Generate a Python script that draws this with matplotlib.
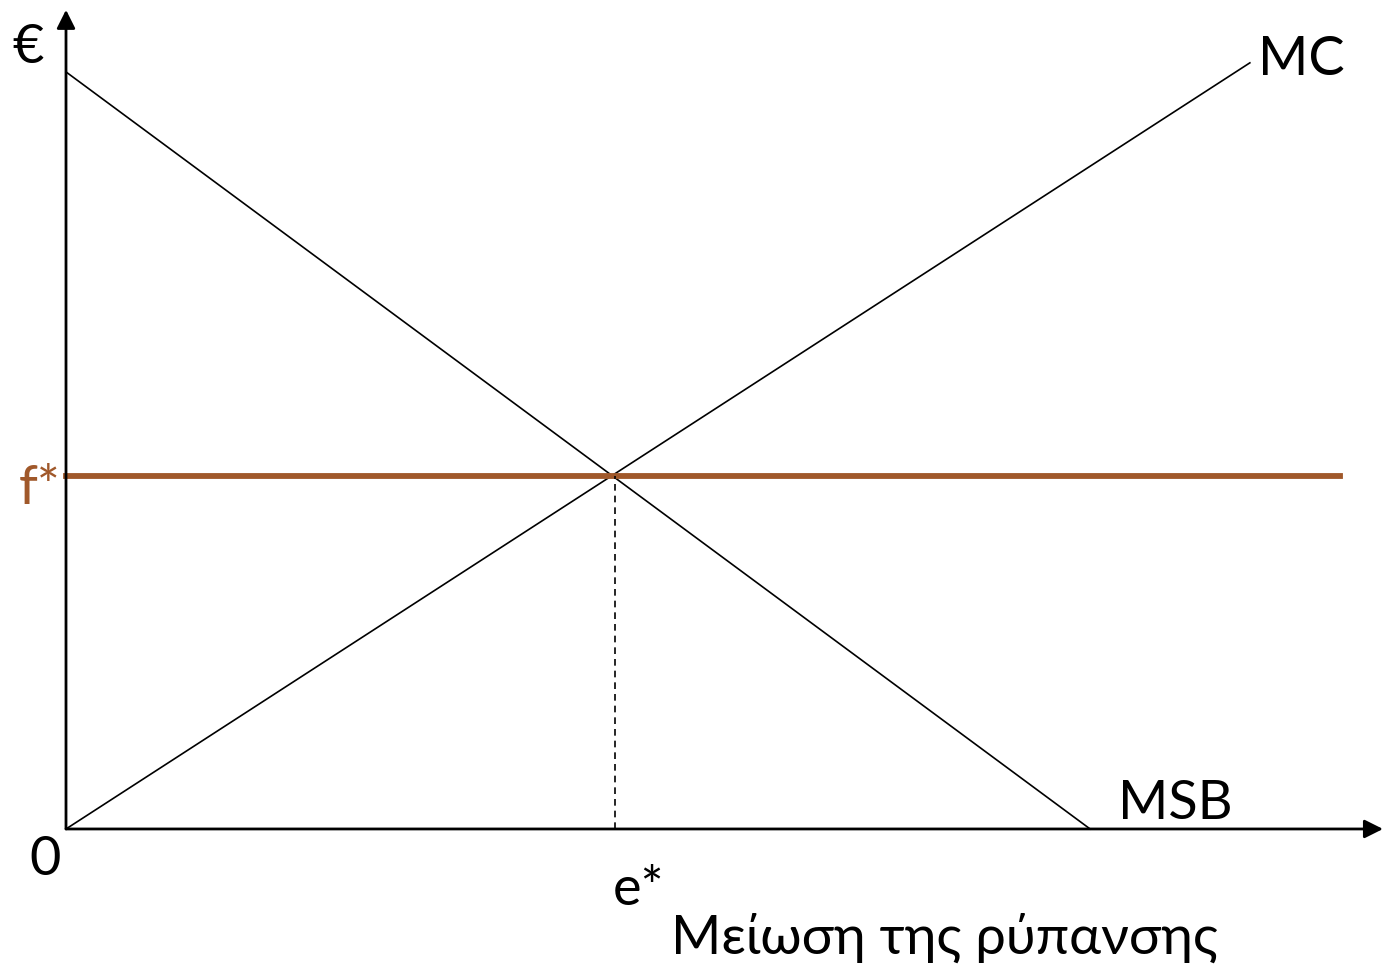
import matplotlib.pyplot as plt

# demand / cost curves (quantity of abatement, euros)
q_msb = [0, 100]
p_msb = [100, 0]
q_mc = [0, 115.6]
p_mc = [0, 101.2]
f_star = 46.6
e_star = 53.6
f_end = 124.4

brown = "#A0582A"
plt.rcParams['font.family'] = ['Lato', 'Noto Sans', 'DejaVu Sans']

fig = plt.figure(figsize=(13.83, 9.66), dpi=100)
ax = fig.add_axes([0, 0, 1, 1])
ax.set_xlim(-6.445, 128.6)
ax.set_ylim(-18.1, 109.5)
ax.axis("off")

# axes with arrows
ax.annotate("", xy=(0, 108.2), xytext=(0, 0),
            arrowprops=dict(arrowstyle="-|>", lw=2.0, color="black", mutation_scale=28, shrinkA=0, shrinkB=0))
ax.annotate("", xy=(128.6, 0), xytext=(0, 0),
            arrowprops=dict(arrowstyle="-|>", lw=2.0, color="black", mutation_scale=28, shrinkA=0, shrinkB=0))

ax.plot(q_msb, p_msb, color="black", lw=1.2)
ax.plot(q_mc, p_mc, color="black", lw=1.2)
ax.plot([0, f_end], [f_star, f_star], color=brown, lw=4.2)
ax.plot([e_star, e_star], [0, f_star], color="black", lw=1.2, ls=(0, (4, 3)))

fs = 39
ax.text(-3.71, 103.2, "€", fontsize=fs, ha="center", va="center")
ax.text(120.6, 101.6, "MC", fontsize=fs, ha="center", va="center")
ax.text(108.3, 3.4, "MSB", fontsize=fs, ha="center", va="center")
ax.text(-2.54, 45.0, "f*", fontsize=fs, ha="center", va="center", color=brown)
ax.text(-2.05, -4.0, "0", fontsize=fs, ha="center", va="center")
ax.text(55.9, -8.0, "e*", fontsize=fs, ha="center", va="center")
ax.text(85.8, -14.4, "Μείωση της ρύπανσης", fontsize=fs, ha="center", va="center")

plt.savefig("out.png", dpi=100)
